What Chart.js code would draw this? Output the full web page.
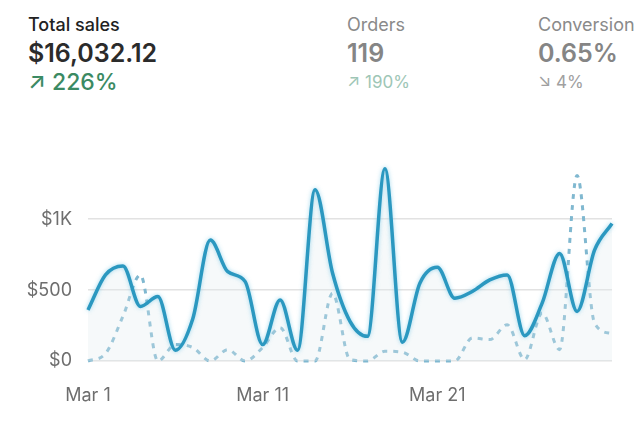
<!DOCTYPE html>
<html>
<head>
<meta charset="utf-8">
<script src="https://cdn.jsdelivr.net/npm/chart.js@4"></script>
<style>
  html, body { margin: 0; padding: 0; background: #fff; overflow: hidden; }
  body { width: 639px; height: 426px; position: relative; font-family: Inter, "Liberation Sans", sans-serif; }
  .kpi { position: absolute; top: 13px; white-space: nowrap; }
  .kpi .label { font-size: 18px; line-height: 24px; }
  .kpi .value { font-size: 25px; line-height: 32px; font-weight: 600; }
  .kpi .delta { font-size: 23px; line-height: 26px; font-weight: 500; }
  .kpi.dim .delta { font-size: 17px; line-height: 26px; font-weight: 400; }
  #wrap { position: absolute; left: 0; top: 140px; width: 639px; height: 286px; }
</style>
</head>
<body>
<div class="kpi" style="left:28px">
  <div class="label" style="color:#222;font-weight:500">Total sales</div>
  <div class="value" style="color:#2b2b2b">$16,032.12</div>
  <div class="delta" style="color:#3b8a63">&#8599; 226%</div>
</div>
<div class="kpi dim" style="left:347px">
  <div class="label" style="color:#8a8a8a">Orders</div>
  <div class="value" style="color:#858585">119</div>
  <div class="delta" style="color:#9ec6b6">&#8599; 190%</div>
</div>
<div class="kpi dim" style="left:538px">
  <div class="label" style="color:#8a8a8a">Conversion</div>
  <div class="value" style="color:#858585">0.65%</div>
  <div class="delta" style="color:#a0a0a0">&#8600; 4%</div>
</div>
<div id="wrap"><canvas id="chart"></canvas></div>
<script>
// days of March
const days = ['Mar 1','Mar 2','Mar 3','Mar 4','Mar 5','Mar 6','Mar 7','Mar 8','Mar 9','Mar 10',
  'Mar 11','Mar 12','Mar 13','Mar 14','Mar 15','Mar 16','Mar 17','Mar 18','Mar 19','Mar 20',
  'Mar 21','Mar 22','Mar 23','Mar 24','Mar 25','Mar 26','Mar 27','Mar 28','Mar 29','Mar 30','Mar 31'];

// sales this period (solid)
const salesNow = [360, 607, 670, 385, 455, 76, 298, 853, 630, 560,
  116, 431, 76, 1208, 621, 280, 174, 1356, 132, 549,
  661, 443, 490, 572, 607, 179, 408, 759, 350, 782, 970];

// sales previous period (dotted)
const salesPrev = [0, 52, 315, 607, 0, 116, 95, 0, 80, 0,
  95, 235, 0, 0, 478, 10, 0, 69, 62, 0,
  0, 0, 163, 151, 256, 10, 338, 80, 1309, 268, 193];

const tickValues = [0, 500, 1000];
const tickLabels = ['$0', '$500', '$1K'];
const shownDays = ['Mar 1', 'Mar 11', 'Mar 21'];

// soft glow under the solid line
const glow = {
  id: 'glow',
  beforeDatasetDraw(chart, args) {
    if (args.index === 0) {
      chart.ctx.save();
      chart.ctx.shadowColor = 'rgba(120,200,230,0.7)';
      chart.ctx.shadowBlur = 4;
    }
  },
  afterDatasetDraw(chart, args) {
    if (args.index === 0) chart.ctx.restore();
  }
};

const tickFont = { family: 'Inter, "Liberation Sans", sans-serif', size: 18 };

new Chart(document.getElementById('chart'), {
  type: 'line',
  data: {
    labels: days,
    datasets: [
      {
        data: salesNow,
        borderColor: '#2b98c0',
        borderWidth: 3.5,
        backgroundColor: 'rgba(225,235,240,0.3)',
        fill: 'origin',
        clip: false,
        pointRadius: 0,
        cubicInterpolationMode: 'monotone'
      },
      {
        data: salesPrev,
        borderColor: '#80b8d0',
        borderWidth: 3,
        borderDash: [5, 6],
        fill: false,
        clip: false,
        pointRadius: 0,
        cubicInterpolationMode: 'monotone'
      }
    ]
  },
  options: {
    responsive: true,
    maintainAspectRatio: false,
    animation: false,
    layout: { padding: { top: 8, right: 27, left: 0, bottom: 0 } },
    plugins: { legend: { display: false }, tooltip: { enabled: false } },
    scales: {
      x: {
        offset: false,
        grid: { display: false, drawTicks: false },
        border: { display: false },
        afterFit: s => { s.height = 65; },
        ticks: {
          autoSkip: false,
          maxRotation: 0,
          padding: 24,
          color: '#6e6e6e',
          font: tickFont,
          callback: function (v) {
            const l = this.getLabelForValue(v);
            return shownDays.includes(l) ? l : '';
          }
        }
      },
      y: {
        min: 0,
        max: 1370,
        afterFit: s => { s.width = 88; },
        afterBuildTicks: s => { s.ticks = tickValues.map(v => ({ value: v })); },
        border: { display: false },
        grid: { color: '#e2e2e2', lineWidth: 1.5, drawTicks: false },
        ticks: {
          padding: 16,
          color: '#6e6e6e',
          font: tickFont,
          callback: v => tickLabels[tickValues.indexOf(v)]
        }
      }
    }
  },
  plugins: [glow]
});
</script>
</body>
</html>
